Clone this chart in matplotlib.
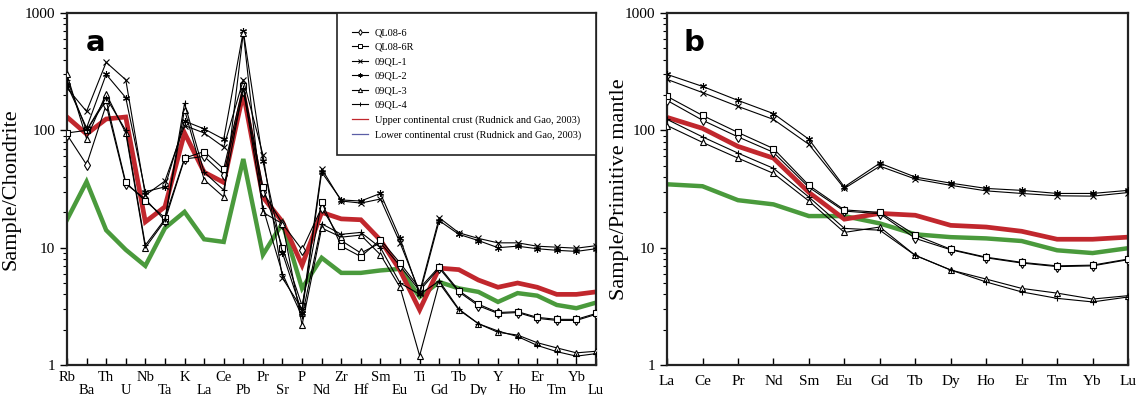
import matplotlib
matplotlib.use("Agg")
import matplotlib.pyplot as plt
from matplotlib.lines import Line2D
from matplotlib.ticker import FixedLocator, NullFormatter, LogLocator

plt.rcParams['font.family'] = ['Liberation Serif', 'DejaVu Serif']

# ---- data: panel a (chondrite normalised spider diagram) ----
spider_elems = ["Rb", "Ba", "Th", "U", "Nb", "Ta", "K", "La", "Ce", "Pb", "Pr", "Sr", "P", "Nd",
                "Zr", "Hf", "Sm", "Eu", "Ti", "Gd", "Tb", "Dy", "Y", "Ho", "Er", "Tm", "Yb", "Lu"]
a_ql086 = [92, 51, 165, 35, 26, 17, 57, 60, 42, 215, 30, 16, 9.6, 22,
           11.5, 9, 11, 7, 4.3, 6.7, 4.2, 3.2, 2.75, 2.8, 2.5, 2.4, 2.4, 2.7]
a_ql086r = [95, 100, 180, 36, 25, 18, 58, 66, 47, 240, 33, 10, 3.2, 24.5,
            10.3, 8.4, 11.7, 7.4, 4.5, 6.9, 4.3, 3.3, 2.8, 2.85, 2.55, 2.45, 2.45, 2.75]
a_09ql1 = [230, 145, 380, 270, 28, 37, 110, 95, 72, 270, 62, 5.5, 3.0, 47,
           25, 24, 26, 11, 4.2, 18, 13.4, 12, 11, 11, 10.3, 10.1, 9.9, 10.4]
a_09ql2 = [245, 105, 300, 190, 30, 33, 120, 103, 84, 700, 55, 9, 2.8, 44,
           25.5, 25, 29, 12, 4.0, 17, 13, 11.5, 10, 10.3, 9.8, 9.5, 9.3, 9.8]
a_09ql3 = [300, 85, 205, 95, 10, 17, 150, 38, 27, 680, 20, 16, 2.2, 14.7,
           12.3, 12.8, 8.7, 4.6, 1.2, 5, 2.95, 2.25, 1.9, 1.8, 1.55, 1.4, 1.27, 1.31]
a_09ql4 = [270, 100, 190, 100, 10.5, 17.5, 170, 44, 31, 230, 22, 6, 2.6, 16,
           13, 13.5, 10, 5, 4.0, 5.2, 3.0, 2.25, 1.95, 1.75, 1.47, 1.3, 1.19, 1.25]
a_ucc = [130, 93, 125, 130, 16.6, 22.3, 95, 44, 36, 208, 27, 16.6, 7.1, 20,
         17.6, 17.3, 11.6, 6.4, 2.95, 6.7, 6.5, 5.3, 4.6, 5.0, 4.6, 4.0, 4.0, 4.2]
a_lcc = [17.3, 36.5, 14.1, 9.6, 7.0, 14.7, 20.2, 11.8, 11.2, 57, 8.7, 16.2, 4.5, 8.2,
         6.1, 6.1, 6.4, 6.6, 3.8, 5.1, 4.5, 4.2, 3.45, 4.1, 3.9, 3.25, 3.05, 3.4]

# ---- data: panel b (primitive mantle normalised REE) ----
ree_elems = ["La", "Ce", "Pr", "Nd", "Sm", "Eu", "Gd", "Tb", "Dy", "Ho", "Er", "Tm", "Yb", "Lu"]
b_ql086 = [180, 122, 88, 65, 32.7, 20.5, 19.5, 12.0, 9.6, 8.2, 7.4, 6.9, 7.0, 7.9]
b_ql086r = [195, 134, 96, 70, 34, 21, 20, 12.8, 9.7, 8.3, 7.5, 7.0, 7.1, 8.0]
b_09ql1 = [272, 210, 160, 124, 76, 32, 49.5, 38.5, 34, 30.5, 29, 27.7, 27.5, 29.5]
b_09ql2 = [300, 237, 180, 139, 84, 33, 52.5, 40, 35.5, 32, 30.8, 29, 29, 30.8]
b_09ql3 = [110, 79, 58, 43, 25, 13.5, 15, 8.6, 6.45, 5.4, 4.5, 4.1, 3.65, 3.9]
b_09ql4 = [124, 88, 64, 47.5, 27, 14.6, 14.1, 8.6, 6.45, 5.1, 4.2, 3.7, 3.45, 3.8]
b_ucc = [129, 104, 73, 58, 29.6, 17.5, 19.6, 18.9, 15.5, 15, 13.8, 11.8, 11.8, 12.3]
b_lcc = [34.7, 33.4, 25.4, 23.4, 18.6, 18.6, 16.1, 13.0, 12.3, 12.0, 11.4, 9.5, 9.0, 9.9]

sample_names = ["QL08-6", "QL08-6R", "09QL-1", "09QL-2", "09QL-3", "09QL-4"]
markers = ["d", "s", "x", (6, 2, 0), "^", "+"]
RED = "#c1272d"
GREEN = "#4a9a3c"


def draw(ax, samples, ucc, lcc):
    xs = range(len(ucc))
    ax.plot(xs, lcc, color=GREEN, lw=3.2, zorder=2, solid_joinstyle="miter")
    ax.plot(xs, ucc, color=RED, lw=3.4, zorder=2, solid_joinstyle="miter")
    for vals, m in zip(samples, markers):
        ax.plot(xs, vals, color="black", lw=0.8, marker=m, ms=5, mew=0.8,
                mfc="white", mec="black", zorder=3)
    ax.set_yscale("log")
    ax.set_ylim(1, 1000)
    ax.set_xlim(0, len(ucc) - 1)
    ax.yaxis.set_major_locator(FixedLocator([1, 10, 100, 1000]))
    ax.set_yticklabels(["1", "10", "100", "1000"], fontsize=11)
    ax.yaxis.set_minor_locator(LogLocator(base=10, subs=range(2, 10)))
    ax.yaxis.set_minor_formatter(NullFormatter())
    ax.tick_params(axis="y", which="major", direction="out", length=5, width=1)
    ax.tick_params(axis="y", which="minor", direction="out", length=3, width=0.8)
    ax.tick_params(axis="x", direction="in", length=5, width=1)
    for s in ax.spines.values():
        s.set_linewidth(1.6)
        s.set_color("#222222")


fig = plt.figure(figsize=(11.43, 3.95), dpi=100)
ax1 = fig.add_axes([0.0586, 0.0759, 0.4628, 0.8911])
ax2 = fig.add_axes([0.5836, 0.0759, 0.4033, 0.8911])

draw(ax1, [a_ql086, a_ql086r, a_09ql1, a_09ql2, a_09ql3, a_09ql4], a_ucc, a_lcc)
draw(ax2, [b_ql086, b_ql086r, b_09ql1, b_09ql2, b_09ql3, b_09ql4], b_ucc, b_lcc)

# staggered element labels for the spider diagram
ax1.set_xticks(range(len(spider_elems)))
ax1.set_xticklabels([e if i % 2 == 0 else "\n" + e for i, e in enumerate(spider_elems)],
                    fontsize=10.5, linespacing=1.05)
ax1.tick_params(axis="x", pad=4)
ax2.set_xticks(range(len(ree_elems)))
ax2.set_xticklabels(ree_elems, fontsize=11)
ax2.tick_params(axis="x", pad=7)

ax1.set_ylabel("Sample/Chondrite", fontsize=16)
ax1.yaxis.set_label_coords(-0.088, 0.5)
ax2.set_ylabel("Sample/Primitive mantle", fontsize=16)
ax2.yaxis.set_label_coords(-0.082, 0.5)

ax1.text(0.035, 0.955, "a", transform=ax1.transAxes, fontsize=21, fontweight="bold",
         family="DejaVu Sans", va="top", ha="left")
ax2.text(0.035, 0.955, "b", transform=ax2.transAxes, fontsize=21, fontweight="bold",
         family="DejaVu Sans", va="top", ha="left")

handles = [Line2D([], [], color="black", lw=0.8, marker=m, ms=3, mew=0.7, mfc="white")
           for m in markers]
handles += [Line2D([], [], color=RED, lw=0.9), Line2D([], [], color="#5b5ea6", lw=0.9)]
labels = sample_names + ["Upper continental crust (Rudnick and Gao, 2003)",
                         "Lower continental crust (Rudnick and Gao, 2003)"]
leg = ax1.legend(handles, labels, loc="upper right", bbox_to_anchor=(1, 1),
                 borderaxespad=0, fancybox=False, edgecolor="#222222", framealpha=1,
                 fontsize=7.5, handlelength=1.6, handletextpad=0.6, labelspacing=0.5,
                 borderpad=1.45)
leg.get_frame().set_linewidth(1.2)

fig.savefig("out.png", dpi=100)
